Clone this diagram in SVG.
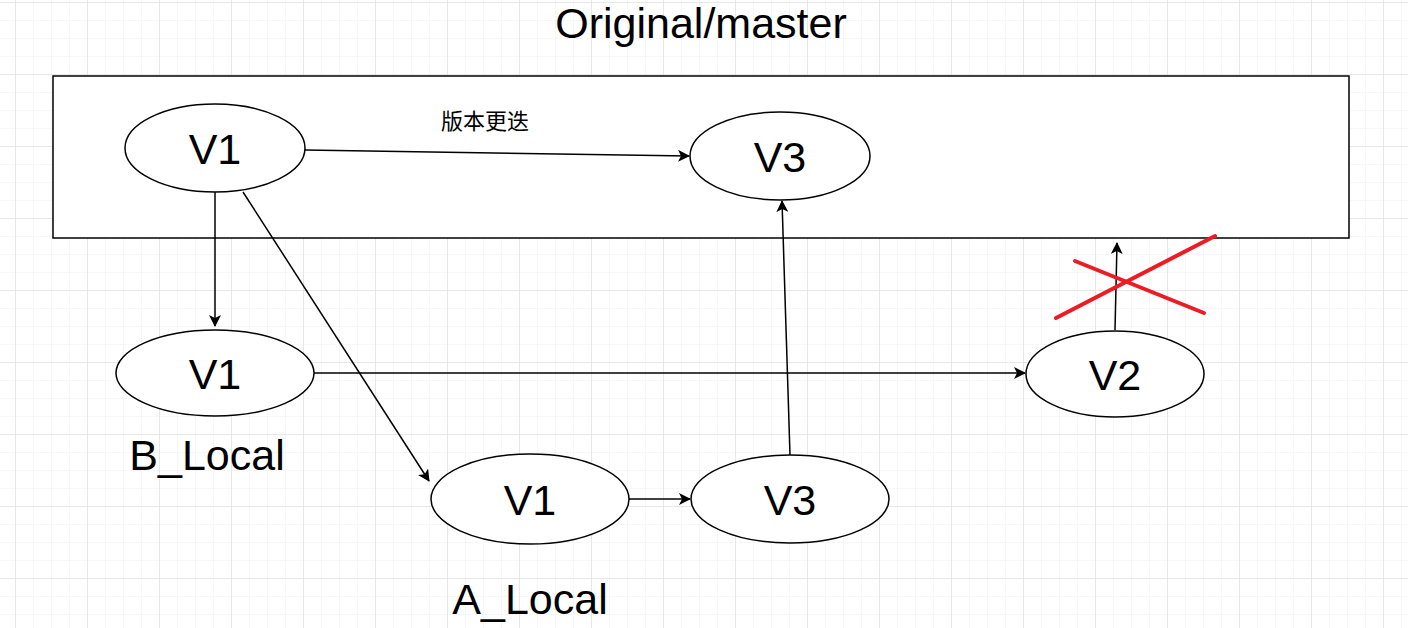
<svg xmlns="http://www.w3.org/2000/svg" width="1408" height="628" viewBox="0 0 1408 628">
<defs>
<pattern id="minor" x="15" y="2" width="18" height="18" patternUnits="userSpaceOnUse"><path d="M0 0V18M0 0H18" fill="none" stroke="#f0f0f0" stroke-width="1"/></pattern>
<pattern id="major" x="15" y="2" width="72" height="72" patternUnits="userSpaceOnUse"><path d="M0 0V72M0 0H72" fill="none" stroke="#d8d8d8" stroke-width="1"/></pattern>
<marker id="arr" markerWidth="12" markerHeight="12" refX="11" refY="6" orient="auto" markerUnits="userSpaceOnUse" viewBox="0 0 12 12"><path d="M0 0L12 6L0 12L3 6Z" fill="#000"/></marker>
</defs>
<style>
.n{fill:#fff;stroke:#000;stroke-width:1.5}
.t{font-family:"Liberation Sans",Arial,sans-serif;font-size:43px;fill:#000;text-anchor:middle}
.e{fill:none;stroke:#000;stroke-width:1.5;marker-end:url(#arr)}
.x{stroke:#ED1C24;stroke-width:4;stroke-linecap:round}
</style>
<rect width="1408" height="628" fill="#fff"/>
<rect width="1408" height="628" fill="url(#minor)"/>
<rect width="1408" height="628" fill="url(#major)"/>
<text class="t" x="701" y="38">Original/master</text>
<g id="master"><rect x="53" y="76" width="1296" height="162" fill="#fff" stroke="#000" stroke-width="1.5"/></g>
<g id="edges">
<path class="e" d="M305 150L689 156"/>
<path class="e" d="M215 192L215 326"/>
<path class="e" d="M243 192L429 481"/>
<path class="e" d="M314 373L1025 373"/>
<path class="e" d="M629 499L690 499"/>
<path class="e" d="M790 455L782 201"/>
<path class="e" d="M1115 330L1117 243"/>
</g>
<text x="441" y="129" style="font-family:'Noto Sans CJK SC',sans-serif;font-size:22px">版本更迭</text>
<g id="v1top"><ellipse class="n" cx="215" cy="148" rx="90" ry="44"/><text class="t" x="215" y="164">V1</text></g>
<g id="v3top"><ellipse class="n" cx="780" cy="156" rx="90" ry="44"/><text class="t" x="780" y="172">V3</text></g>
<g id="v1b"><ellipse class="n" cx="215" cy="373" rx="99" ry="43"/><text class="t" x="215" y="389">V1</text></g>
<g id="v2"><ellipse class="n" cx="1115" cy="374" rx="89" ry="43"/><text class="t" x="1115" y="390">V2</text></g>
<g id="v1a"><ellipse class="n" cx="530" cy="499" rx="99" ry="45"/><text class="t" x="530" y="515">V1</text></g>
<g id="v3a"><ellipse class="n" cx="790" cy="499" rx="99" ry="44"/><text class="t" x="790" y="515">V3</text></g>
<text class="t" x="207" y="470">B_Local</text>
<text class="t" x="530" y="614">A_Local</text>
<g id="cross"><line class="x" x1="1056" y1="318" x2="1215" y2="236"/><line class="x" x1="1075" y1="261" x2="1204" y2="313"/></g>
</svg>
